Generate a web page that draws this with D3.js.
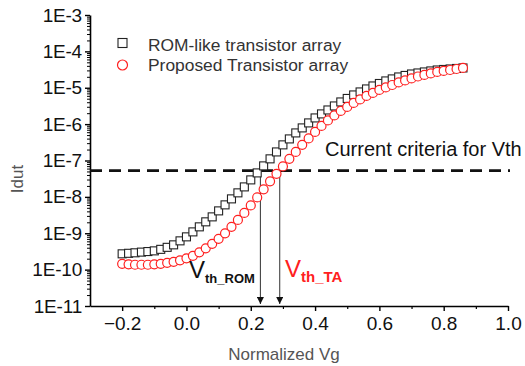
<!DOCTYPE html>
<html>
<head>
<meta charset="utf-8">
<script src="https://cdn.jsdelivr.net/npm/d3@7"></script>
<style>
  html, body { margin: 0; padding: 0; background: #fff; }
  svg { display: block; font-family: "Liberation Sans", Arial, sans-serif; }
</style>
</head>
<body>
<svg id="chart" width="525" height="366"></svg>
<script>
// Normalized gate voltage sweep
const vg = [-0.20,-0.18,-0.16,-0.14,-0.12,-0.10,-0.08,-0.06,-0.04,-0.02,
  0.00,0.02,0.04,0.06,0.08,0.10,0.12,0.14,0.16,0.18,
  0.20,0.22,0.24,0.26,0.28,0.30,0.32,0.34,0.36,0.38,
  0.40,0.42,0.44,0.46,0.48,0.50,0.52,0.54,0.56,0.58,
  0.60,0.62,0.64,0.66,0.68,0.70,0.72,0.74,0.76,0.78,
  0.80,0.82,0.84,0.86];

// Drain current, ROM-like transistor array
const idutROM = [2.72e-10,2.81e-10,2.90e-10,3.03e-10,3.14e-10,3.28e-10,3.61e-10,4.10e-10,4.80e-10,6.18e-10,
  7.96e-10,1.09e-9,1.50e-9,2.06e-9,2.82e-9,4.12e-9,6.03e-9,8.81e-9,1.29e-8,1.88e-8,
  2.93e-8,4.56e-8,7.11e-8,1.11e-7,1.72e-7,2.69e-7,3.92e-7,5.73e-7,7.87e-7,1.08e-6,
  1.48e-6,1.91e-6,2.45e-6,3.16e-6,4.07e-6,5.08e-6,6.34e-6,7.67e-6,9.27e-6,1.12e-5,
  1.31e-5,1.54e-5,1.75e-5,1.98e-5,2.18e-5,2.39e-5,2.55e-5,2.72e-5,2.90e-5,3.08e-5,
  3.18e-5,3.28e-5,3.39e-5,3.50e-5];

// Drain current, proposed transistor array
const idutTA = [1.44e-10,1.40e-10,1.36e-10,1.36e-10,1.36e-10,1.40e-10,1.44e-10,1.54e-10,1.64e-10,1.80e-10,
  2.04e-10,2.39e-10,2.99e-10,3.85e-10,5.12e-10,7.02e-10,9.93e-10,1.50e-9,2.33e-9,3.63e-9,
  5.83e-9,9.68e-9,1.61e-8,2.67e-8,4.29e-8,6.89e-8,1.11e-7,1.72e-7,2.69e-7,4.05e-7,
  6.11e-7,8.93e-7,1.26e-6,1.73e-6,2.31e-6,2.97e-6,3.82e-6,4.77e-6,5.96e-6,7.20e-6,
  8.71e-6,1.02e-5,1.19e-5,1.40e-5,1.59e-5,1.80e-5,2.04e-5,2.25e-5,2.47e-5,2.72e-5,
  2.90e-5,3.08e-5,3.28e-5,3.50e-5];

const seriesNames = ["ROM-like transistor array", "Proposed Transistor array"];
const thresholdCurrent = 5.3e-8;
const thresholdLabel = "Current criteria for Vth";
const vthValues = [0.23, 0.29];   // ROM, TA
const yTickExps = [-11,-10,-9,-8,-7,-6,-5,-4,-3];
const xTickValues = [-0.2,0.0,0.2,0.4,0.6,0.8,1.0];
const xMinorValues = [-0.1,0.1,0.3,0.5,0.7,0.9];

const svg = d3.select("#chart");
const x = d3.scaleLinear().domain([-0.3, 1.0]).range([90, 508]);
const y = d3.scaleLog().domain([1e-11, 1e-3]).range([306, 15]);

const red = "#ff2020";

// Minor log ticks on the y axis
const yMinor = [];
for (let e = -11; e < -3; e++) for (let m = 2; m <= 9; m++) yMinor.push(m * Math.pow(10, e));

svg.append("g").attr("transform", "translate(90,0)")
  .call(d3.axisLeft(y).tickValues(yMinor).tickSize(3).tickFormat(""))
  .call(g => g.select(".domain").remove())
  .call(g => g.selectAll("line").attr("stroke", "#000").attr("stroke-width", 1));

const yAxis = svg.append("g").attr("transform", "translate(90,0)")
  .call(d3.axisLeft(y).tickValues(yTickExps.map(e => Math.pow(10, e)))
    .tickSize(5).tickSizeOuter(0).tickPadding(3)
    .tickFormat(d => "1E" + Math.round(Math.log10(d))));
yAxis.select(".domain").attr("stroke", "#000").attr("stroke-width", 1.6);
yAxis.selectAll("line").attr("stroke", "#000").attr("stroke-width", 1.4);
yAxis.selectAll("text").attr("font-size", 19).attr("fill", "#111")
  .attr("font-family", "'Liberation Sans', Arial, sans-serif").attr("letter-spacing", -0.2);

svg.append("g").attr("transform", "translate(0,306)")
  .call(d3.axisBottom(x).tickValues(xMinorValues).tickSize(3).tickFormat(""))
  .call(g => g.select(".domain").remove())
  .call(g => g.selectAll("line").attr("stroke", "#000").attr("stroke-width", 1.2));

const xAxis = svg.append("g").attr("transform", "translate(0,306)")
  .call(d3.axisBottom(x).tickValues(xTickValues).tickSize(5).tickSizeOuter(0).tickPadding(6)
    .tickFormat(d => (d < 0 ? "\u2212" : "") + Math.abs(d).toFixed(1)));
xAxis.select(".domain").attr("stroke", "#000").attr("stroke-width", 1.6);
xAxis.selectAll("line").attr("stroke", "#000").attr("stroke-width", 1.4);
xAxis.selectAll("text").attr("font-size", 19).attr("fill", "#111")
  .attr("font-family", "'Liberation Sans', Arial, sans-serif");

// Axis titles
svg.append("text").attr("x", 284).attr("y", 360).attr("text-anchor", "middle")
  .attr("font-size", 17).attr("fill", "#555").text("Normalized Vg");
svg.append("text").attr("transform", "translate(23,179) rotate(-90)").attr("text-anchor", "middle")
  .attr("font-size", 17).attr("fill", "#555").text("Idut");

// Threshold current line
svg.append("line")
  .attr("x1", x(-0.3)).attr("x2", 510)
  .attr("y1", y(thresholdCurrent)).attr("y2", y(thresholdCurrent))
  .attr("stroke", "#111").attr("stroke-width", 2.8).attr("stroke-dasharray", "12,7");
svg.append("text").attr("x", 325).attr("y", 156).attr("font-size", 20).attr("fill", "#111")
  .text(thresholdLabel);

// Vth arrows
svg.append("defs").append("marker")
  .attr("id", "arrowHead").attr("viewBox", "0 0 10 10").attr("refX", 10).attr("refY", 5)
  .attr("markerWidth", 7).attr("markerHeight", 7).attr("markerUnits", "userSpaceOnUse")
  .attr("orient", "auto")
  .append("path").attr("d", "M0,0 L10,5 L0,10 Z").attr("fill", "#111");
svg.selectAll(".vth").data(vthValues).join("line")
  .attr("class", "vth")
  .attr("x1", d => x(d)).attr("x2", d => x(d))
  .attr("y1", y(thresholdCurrent)).attr("y2", 304)
  .attr("stroke", "#444").attr("stroke-width", 1.1)
  .attr("marker-end", "url(#arrowHead)");

// Series markers
const rom = vg.map((v, i) => ({ v, c: idutROM[i] }));
const ta = vg.map((v, i) => ({ v, c: idutTA[i] }));
const sq = 8;
svg.append("g").selectAll("rect").data(rom).join("rect")
  .attr("x", d => x(d.v) - sq / 2).attr("y", d => y(d.c) - sq / 2)
  .attr("width", sq).attr("height", sq)
  .attr("fill", "#fff").attr("stroke", "#222").attr("stroke-width", 1.1);
svg.append("g").selectAll("circle").data(ta).join("circle")
  .attr("cx", d => x(d.v)).attr("cy", d => y(d.c)).attr("r", 4.5)
  .attr("fill", "#fff").attr("stroke", red).attr("stroke-width", 1.2);

// Legend
svg.append("rect").attr("x", 118).attr("y", 38.5).attr("width", 9).attr("height", 9)
  .attr("fill", "#fff").attr("stroke", "#222").attr("stroke-width", 1.1);
svg.append("circle").attr("cx", 122.5).attr("cy", 65).attr("r", 5)
  .attr("fill", "#fff").attr("stroke", red).attr("stroke-width", 1.2);
svg.append("text").attr("x", 148).attr("y", 51).attr("font-size", 17.4).attr("fill", "#333")
  .text(seriesNames[0]);
svg.append("text").attr("x", 148).attr("y", 71).attr("font-size", 17.4).attr("fill", "#333")
  .text(seriesNames[1]);

// Vth labels
const romLbl = svg.append("text").attr("x", 189).attr("y", 278).attr("fill", "#111");
romLbl.append("tspan").attr("font-size", 24).text("V");
romLbl.append("tspan").attr("font-size", 13).attr("font-weight", "bold").attr("dy", 5).text("th_ROM");
const taLbl = svg.append("text").attr("x", 285).attr("y", 277).attr("fill", red);
taLbl.append("tspan").attr("font-size", 24).text("V");
taLbl.append("tspan").attr("font-size", 15).attr("font-weight", "bold").attr("dy", 5).text("th_TA");
</script>
</body>
</html>
